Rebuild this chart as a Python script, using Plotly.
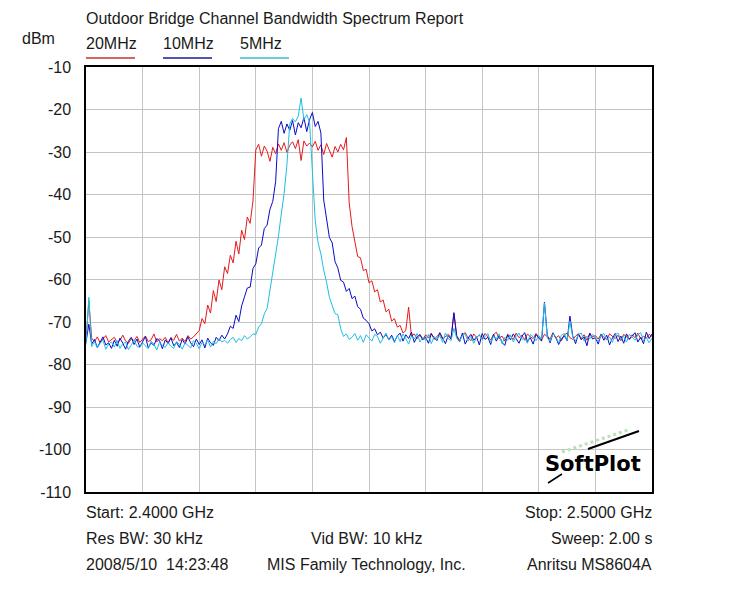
import numpy as np
import plotly.graph_objects as go

# Sweep: 2.4000 GHz to 2.5000 GHz, 201 points (0.5 MHz step)
start_mhz = 2400.0
stop_mhz = 2500.0
n_points = 201
freq = np.linspace(start_mhz, stop_mhz, n_points)

series_names = ["20MHz", "10MHz", "5MHz"]
series_colors = ["#e41a1c", "#0a0ac8", "#1ebfe3"]
legend_colors = ["#c8302c", "#1a1a8c", "#38bcd0"]

red_20mhz = [
    -74.2, -65.0, -73.8, -74.6, -73.5, -74.9, -74.0, -73.2, -74.7, -74.1,
    -73.6, -74.8, -74.3, -73.1, -74.5, -75.0, -73.9, -74.4, -73.4, -74.8,
    -74.0, -73.3, -74.6, -74.2, -72.8, -74.7, -73.9, -74.4, -73.6, -74.9,
    -73.7, -74.3, -72.9, -74.5, -73.8, -74.6, -73.2, -74.0, -73.5, -72.8,
    -72.0, -69.2, -70.4, -66.0, -67.9, -62.6, -65.2, -60.1, -62.4, -57.0,
    -58.6, -54.3, -56.1, -51.0, -54.0, -48.4, -50.6, -45.3, -46.8, -41.5,
    -29.5, -28.2, -31.0, -28.6, -29.8, -32.2, -28.9, -30.4, -28.1, -29.6,
    -27.8, -30.1, -28.4, -27.6, -29.2, -27.1, -32.0, -27.4, -28.6, -27.9,
    -28.8, -27.5, -29.6, -28.3, -30.6, -28.0, -29.4, -31.2, -28.7, -30.0,
    -28.2, -29.5, -26.6, -42.0, -47.5, -51.5, -54.6, -54.9, -57.9, -57.6,
    -60.8, -60.3, -62.9, -62.4, -65.3, -64.8, -67.6, -67.0, -69.8, -69.2,
    -71.2, -70.8, -72.6, -72.0, -66.5, -73.4, -72.8, -73.9, -73.1, -74.2,
    -73.0, -73.8, -72.6, -74.1, -73.3, -72.7, -74.0, -73.5, -72.9, -73.7,
    -68.0, -73.2, -74.3, -73.0, -72.5, -73.8, -74.4, -72.8, -73.6, -73.1,
    -74.0, -72.7, -73.5, -74.2, -73.0, -72.4, -73.9, -73.3, -74.5, -72.9,
    -73.4, -74.1, -72.6, -73.7, -73.1, -74.3, -72.8, -73.5, -73.9, -72.7,
    -73.6, -74.2, -72.9, -73.4, -74.0, -72.5, -73.8, -73.2, -74.4, -73.0,
    -72.6, -73.7, -74.1, -73.3, -72.8, -73.9, -73.0, -74.3, -72.7, -73.5,
    -73.2, -74.0, -72.9, -73.6, -74.2, -72.8, -73.4, -73.9, -73.1, -74.4,
    -72.9, -73.5, -74.1, -73.0, -73.7, -72.6, -74.0, -73.3, -73.8, -72.9,
    -73.4,
]

blue_10mhz = [
    -74.8, -70.5, -75.2, -74.1, -76.0, -74.6, -73.5, -75.4, -74.9, -76.2,
    -74.3, -75.7, -73.8, -75.0, -76.4, -74.5, -73.6, -75.3, -74.0, -75.9,
    -74.7, -73.4, -76.1, -74.9, -75.5, -73.9, -74.4, -76.3, -74.2, -75.1,
    -73.7, -75.6, -74.8, -76.0, -74.1, -75.2, -73.5, -74.9, -75.8, -74.0,
    -75.3, -74.2, -76.1, -73.8, -74.9, -75.5, -73.6, -74.4, -73.1, -74.0,
    -72.8, -71.0, -71.5, -68.4, -69.9, -66.2, -64.1, -62.0, -61.8, -57.4,
    -56.3, -52.6, -51.9, -48.0, -47.2, -43.5, -41.6, -37.0, -24.5, -22.8,
    -25.6, -23.4, -24.9, -22.6, -26.0, -23.1, -24.3, -21.9, -25.2, -22.4,
    -20.7, -24.0, -22.8, -25.5, -41.3, -45.2, -50.1, -51.4, -55.8, -57.3,
    -60.2, -60.6, -62.8, -62.1, -64.5, -63.9, -66.4, -67.0, -69.1, -69.6,
    -70.4, -72.1, -71.6, -73.0, -72.4, -73.8, -72.9, -74.2, -73.1, -74.6,
    -73.3, -72.6, -74.5, -73.0, -73.9, -72.4, -74.8, -73.5, -72.9, -74.1,
    -73.6, -75.0, -72.8, -73.7, -74.4, -72.5, -73.9, -75.1, -73.2, -74.0,
    -67.8, -73.4, -74.7, -72.6, -75.2, -73.8, -72.9, -74.3, -73.5, -75.4,
    -72.7, -74.1, -73.6, -75.3, -72.9, -74.5, -73.2, -74.8, -75.5, -73.0,
    -74.2, -72.8, -73.9, -75.0, -73.4, -72.5, -74.6, -73.7, -75.2, -72.9,
    -73.8, -74.5, -65.3, -73.1, -74.9, -72.7, -73.6, -75.3, -74.0, -73.2,
    -74.4, -68.6, -73.3, -75.1, -72.8, -74.2, -73.5, -75.6, -72.6, -74.0,
    -73.7, -75.2, -72.9, -74.3, -73.1, -75.4, -73.8, -72.7, -74.6, -73.3,
    -75.0, -72.8, -74.1, -73.4, -72.5, -74.7, -73.6, -75.1, -72.4, -73.9,
    -72.8,
]

cyan_5mhz = [
    -75.3, -64.2, -75.8, -74.6, -76.1, -75.0, -74.3, -76.4, -75.2, -74.7,
    -75.9, -74.4, -76.2, -75.1, -74.8, -76.5, -75.4, -74.2, -75.7, -76.0,
    -74.9, -75.6, -76.3, -74.5, -75.2, -76.6, -74.7, -75.5, -76.0, -74.8,
    -75.7, -76.2, -74.6, -75.3, -76.4, -74.9, -75.6, -76.1, -74.4, -75.0,
    -76.3, -74.8, -75.4, -74.2, -75.9, -74.6, -75.1, -73.9, -74.7, -74.3,
    -75.0, -74.1, -73.6, -74.8, -73.9, -74.4, -73.2, -74.0, -73.5, -72.8,
    -72.9, -71.2, -70.4, -68.1, -66.8, -62.7, -58.9, -54.2, -49.8, -44.6,
    -39.8, -33.0, -23.4, -22.1, -22.9, -21.6, -17.3, -22.4, -21.2, -23.0,
    -33.5, -46.2, -51.3, -54.0, -57.8, -60.6, -64.2, -66.1, -68.0, -68.3,
    -71.6, -73.4, -72.8, -74.1, -73.6, -72.7, -74.3, -73.2, -74.8, -73.0,
    -73.7, -74.5, -72.9, -73.4, -75.0, -73.8, -72.6, -74.2, -73.5, -74.9,
    -73.1, -74.6, -72.8, -73.9, -75.2, -73.3, -74.0, -72.7, -74.7, -73.6,
    -74.3, -72.9, -75.1, -73.5, -74.0, -73.2, -74.8, -72.6, -73.9, -74.4,
    -71.5, -73.8, -74.6, -73.1, -72.8, -74.5, -73.4, -75.0, -73.7, -72.9,
    -74.2, -73.5, -72.7, -74.9, -73.3, -74.0, -72.8, -75.1, -73.6, -74.3,
    -73.0, -74.7, -73.4, -72.6, -74.1, -73.8, -75.0, -72.9, -73.5, -74.4,
    -73.2, -74.0, -65.5, -73.7, -74.6, -72.8, -73.4, -74.9, -73.1, -72.7,
    -74.3, -69.8, -73.6, -74.4, -73.0, -72.6, -74.5, -73.3, -74.0, -72.9,
    -73.8, -74.6, -73.1, -72.7, -74.2, -73.5, -74.8, -73.0, -72.6, -74.1,
    -73.4, -74.7, -72.9, -73.6, -74.3, -73.0, -72.5, -74.4, -73.7, -74.9,
    -73.8,
]

y_tick_vals = [-110, -100, -90, -80, -70, -60, -50, -40, -30, -20, -10]
y_tick_text = ["-110", "-100", "-90", "-80", "-70", "-60", "-50", "-40", "-30", "-20", "-10"]
x_step = 10

title_text = "Outdoor Bridge Channel Bandwidth Spectrum Report"
y_unit = "dBm"
footer_left = ["Start: 2.4000 GHz", "Res BW: 30 kHz", "2008/5/10  14:23:48"]
footer_mid = ["", "Vid BW: 10 kHz", "MIS Family Technology, Inc."]
footer_right = ["Stop: 2.5000 GHz", "Sweep: 2.00 s", "Anritsu MS8604A"]

FONT = "Liberation Sans, Arial, sans-serif"
TXT = "#1a1a1a"

# the page body has an 8px margin; target page coordinates of the plot box
OFF = 8
PX_L, PX_R, PX_T, PX_B = 86, 652, 67, 492
W, H = 730 - OFF, 612 - OFF
L, T = PX_L - OFF, PX_T - OFF
R = W - (PX_R - OFF)
B = H - (PX_B - OFF)
PW, PH = PX_R - PX_L, PX_B - PX_T


def px_x(px):
    return (px - PX_L) / PW


def px_y(py):
    return (PX_B - py) / PH


fig = go.Figure()
for name, vals, col in zip(series_names, [red_20mhz, blue_10mhz, cyan_5mhz], series_colors):
    fig.add_trace(go.Scatter(x=freq, y=vals, mode="lines", name=name,
                             line=dict(color=col, width=1), showlegend=False))

fig.update_layout(
    width=W, height=H, autosize=False,
    margin=dict(l=L, r=R, t=T, b=B, pad=0),
    paper_bgcolor="white", plot_bgcolor="white",
    font=dict(family=FONT, size=16, color=TXT),
    xaxis=dict(range=[start_mhz, stop_mhz], dtick=x_step, tick0=start_mhz,
               showticklabels=False, ticks="", showgrid=True, gridcolor="#c4c4c4",
               gridwidth=1, zeroline=False, showline=True, linecolor="black",
               linewidth=1.5, mirror=True),
    yaxis=dict(range=[y_tick_vals[0], y_tick_vals[-1]], tickmode="array",
               tickvals=y_tick_vals, ticktext=y_tick_text,
               showticklabels=True, ticks="", ticklabelstandoff=10,
               tickfont=dict(family=FONT, size=16, color=TXT),
               showgrid=True, gridcolor="#c4c4c4", gridwidth=1, zeroline=False,
               showline=True, linecolor="black", linewidth=1.5, mirror=True),
)

ann = []
ann.append(dict(text=title_text, x=px_x(84), y=px_y(18), xref="paper", yref="paper",
                xanchor="left", yanchor="middle", showarrow=False,
                font=dict(family=FONT, size=16, color=TXT)))
ann.append(dict(text=y_unit, x=px_x(20), y=px_y(38), xref="paper", yref="paper",
                xanchor="left", yanchor="middle", showarrow=False,
                font=dict(family=FONT, size=16, color=TXT)))

legend_x = [86, 163, 240]
legend_w = [49, 49, 49]
shapes = []
for name, lx, lw, lc in zip(series_names, legend_x, legend_w, legend_colors):
    ann.append(dict(text=name, x=px_x(lx - 2), y=px_y(44), xref="paper", yref="paper",
                    xanchor="left", yanchor="middle", showarrow=False,
                    font=dict(family=FONT, size=16, color=TXT)))
    shapes.append(dict(type="line", xref="paper", yref="paper",
                       x0=px_x(lx), x1=px_x(lx + lw), y0=px_y(58), y1=px_y(58),
                       line=dict(color=lc, width=1.5)))

rows_y = [512, 538, 564]
for i, yy in enumerate(rows_y):
    ann.append(dict(text=footer_left[i], x=px_x(84), y=px_y(yy), xref="paper",
                    yref="paper", xanchor="left", yanchor="middle", showarrow=False,
                    font=dict(family=FONT, size=16, color=TXT)))
    if footer_mid[i]:
        ann.append(dict(text=footer_mid[i], x=px_x(366), y=px_y(yy), xref="paper",
                        yref="paper", xanchor="center", yanchor="middle",
                        showarrow=False, font=dict(family=FONT, size=16, color=TXT)))
    ann.append(dict(text=footer_right[i], x=px_x(654), y=px_y(yy), xref="paper",
                    yref="paper", xanchor="right", yanchor="middle", showarrow=False,
                    font=dict(family=FONT, size=16, color=TXT)))

# SoftPlot logo
ann.append(dict(text="<b>SoftPlot</b>", x=px_x(593), y=px_y(464), xref="paper",
                yref="paper", xanchor="center", yanchor="middle", showarrow=False,
                font=dict(family="DejaVu Sans, sans-serif", size=21, color="black")))
shapes.append(dict(type="line", xref="paper", yref="paper",
                   x0=px_x(562), y0=px_y(452), x1=px_x(628), y1=px_y(430),
                   line=dict(color="#b9e3b4", width=3, dash="dot")))
shapes.append(dict(type="line", xref="paper", yref="paper",
                   x0=px_x(588), y0=px_y(449), x1=px_x(639), y1=px_y(431),
                   line=dict(color="black", width=2)))
shapes.append(dict(type="line", xref="paper", yref="paper",
                   x0=px_x(548), y0=px_y(483), x1=px_x(562), y1=px_y(474),
                   line=dict(color="black", width=1.5)))

fig.update_layout(annotations=ann, shapes=shapes)
fig.write_html("out.html")
